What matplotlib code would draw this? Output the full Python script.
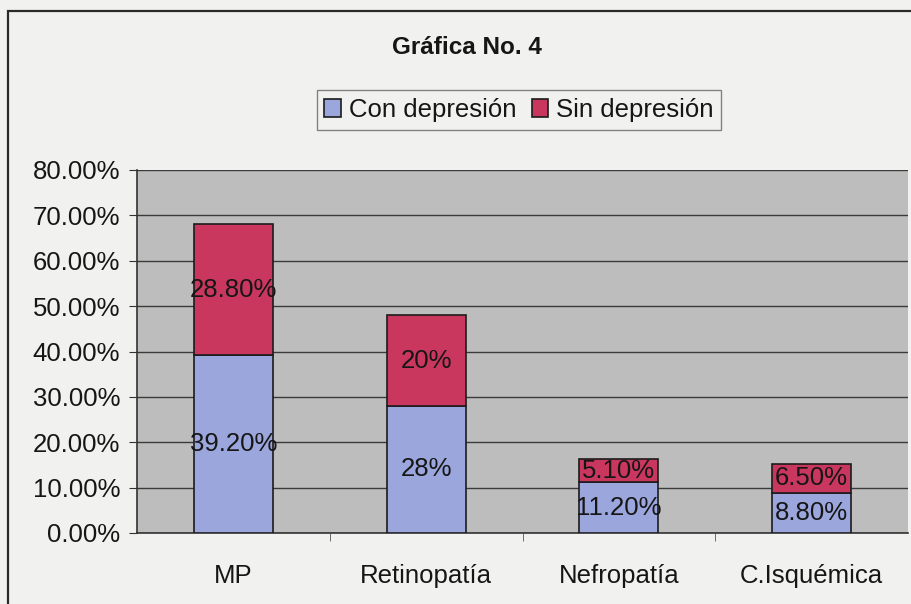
import matplotlib.pyplot as plt
from matplotlib.patches import Rectangle

plt.rcParams['font.family'] = ['Liberation Sans', 'DejaVu Sans']

categories = ["MP", "Retinopatía", "Nefropatía", "C.Isquémica"]
con_depresion = [39.2, 28.0, 11.2, 8.8]
sin_depresion = [28.8, 20.0, 5.1, 6.5]
con_labels = ["39.20%", "28%", "11.20%", "8.80%"]
sin_labels = ["28.80%", "20%", "5.10%", "6.50%"]
yticks = [0, 10, 20, 30, 40, 50, 60, 70, 80]

W, H = 912, 604
fs = 18.5
fig = plt.figure(figsize=(W / 100, H / 100), dpi=100, facecolor="#f1f1ef")
ax = fig.add_axes([137 / W, 1 - 533 / H, (908 - 137) / W, (533 - 170) / H])
ax.set_facecolor("#bdbdbd")

# outer chart frame (right/bottom edges run off the scan)
fig.patches.append(Rectangle((8 / W, -0.05), 1.2, 1 - 11 / H + 0.05,
                             transform=fig.transFigure, fill=False,
                             edgecolor="#2a2a2a", linewidth=1.6))

x = range(len(categories))
blue, red = "#9ba6dd", "#c9375f"
b1 = ax.bar(x, con_depresion, width=0.41, color=blue, edgecolor="#1c1c1c",
            linewidth=1.2, label="Con depresión", zorder=3)
b2 = ax.bar(x, sin_depresion, width=0.41, bottom=con_depresion, color=red,
            edgecolor="#1c1c1c", linewidth=1.2, label="Sin depresión", zorder=3)
ax.bar_label(b1, labels=con_labels, label_type="center", fontsize=fs, color="#161616")
ax.bar_label(b2, labels=sin_labels, label_type="center", fontsize=fs, color="#161616")

ax.set_xlim(-0.5, len(categories) - 0.5)
ax.set_ylim(0, 80)
ax.set_yticks(yticks)
ax.set_yticklabels([f"{v:.2f}%" for v in yticks], fontsize=fs, color="#161616")
ax.set_xticks(list(x))
ax.set_xticklabels(categories, fontsize=fs, color="#161616")
ax.set_xticks([i + 0.5 for i in range(len(categories) - 1)], minor=True)
ax.tick_params(axis="x", which="major", length=0, pad=22)
ax.tick_params(axis="x", which="minor", length=6, color="#555555")
ax.tick_params(axis="y", length=6, color="#333333", pad=6)
ax.yaxis.grid(True, color="#3a3a3a", linewidth=1.0, zorder=1)
ax.set_axisbelow(True)
for side in ("top", "right"):
    ax.spines[side].set_visible(False)
for side in ("left", "bottom"):
    ax.spines[side].set_color("#333333")
    ax.spines[side].set_linewidth(1.2)

fig.text(467 / W, 1 - 47 / H, "Gráfica No. 4", ha="center", va="center",
         fontsize=17.5, fontweight="bold", color="#161616")
leg = fig.legend(loc="center", bbox_to_anchor=(519 / W, 1 - 110 / H), ncol=2,
                 fontsize=fs, frameon=True, fancybox=False, handlelength=0.65,
                 handleheight=0.65, handletextpad=0.3, columnspacing=0.6,
                 borderpad=0.3, edgecolor="#666666")
leg.get_frame().set_facecolor("#f1f1ef")
leg.get_frame().set_linewidth(1.0)
for t in leg.get_texts():
    t.set_color("#161616")

fig.savefig("out.png", dpi=100, facecolor=fig.get_facecolor())
